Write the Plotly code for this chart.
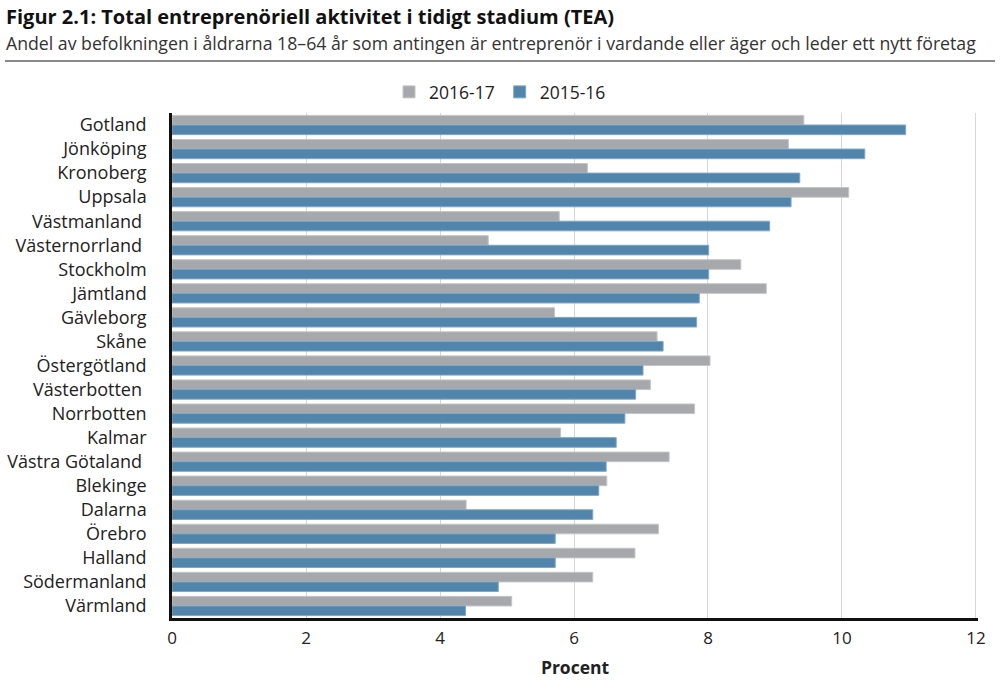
import plotly.graph_objects as go

# regions, top to bottom as in the report
regions = ["Gotland", "Jönköping", "Kronoberg", "Uppsala", "Västmanland ",
           "Västernorrland ", "Stockholm", "Jämtland", "Gävleborg", "Skåne",
           "Östergötland", "Västerbotten ", "Norrbotten", "Kalmar",
           "Västra Götaland ", "Blekinge", "Dalarna", "Örebro", "Halland",
           "Södermanland", "Värmland"]

tea_2016_17 = [9.43, 9.20, 6.20, 10.10, 5.78, 4.72, 8.49, 8.87, 5.71, 7.24,
               8.03, 7.14, 7.80, 5.80, 7.42, 6.49, 4.39, 7.26, 6.91, 6.28, 5.07]
tea_2015_16 = [10.95, 10.34, 9.37, 9.24, 8.92, 8.01, 8.01, 7.87, 7.83, 7.33,
               7.03, 6.92, 6.76, 6.63, 6.48, 6.37, 6.28, 5.72, 5.72, 4.87, 4.38]

x_ticks = [0, 2, 4, 6, 8, 10, 12]

grey = "#a7a8ab"
blue = "#5285ab"
font = "Open Sans"

L, R, T, B = 172, 22, 113, 68
pw = 1000 - L - R
ph = 686 - T - B


def px_x(x):
    return (x - L) / pw


def px_y(y):
    return 1 + (T - y) / ph


fig = go.Figure()
fig.add_trace(go.Bar(y=regions, x=tea_2016_17, name="2016-17", orientation="h",
                     marker=dict(color=grey, line=dict(color="#c4c5c7", width=1))))
fig.add_trace(go.Bar(y=regions, x=tea_2015_16, name="2015-16", orientation="h",
                     marker=dict(color=blue, line=dict(color="#7fa6c6", width=1))))

fig.update_layout(
    width=1000, height=686,
    margin=dict(l=L, r=R, t=T, b=B),
    paper_bgcolor="white", plot_bgcolor="white",
    font=dict(family=font, size=16, color="#222"),
    barmode="group", bargap=0.2, bargroupgap=0,
    showlegend=True,
    legend=dict(orientation="h", x=px_x(500), xanchor="center", y=px_y(92), yanchor="middle",
                font=dict(size=17.5), tracegroupgap=0),
)

fig.update_xaxes(range=[0, 12.03], tickvals=x_ticks, showgrid=True,
                 gridcolor="#d6d6d6", gridwidth=1, zeroline=False,
                 showline=True, linecolor="#111", linewidth=3, automargin=False,
                 ticklabelstandoff=3, tickfont=dict(size=17, color="#222"),
                 title=dict(text="<b>Procent</b>", font=dict(size=17.5), standoff=14))
fig.update_yaxes(autorange="reversed", showgrid=False, showline=True,
                 linecolor="#111", linewidth=2.5, ticks="", automargin=False,
                 ticklabelstandoff=19, tickfont=dict(size=18, color="#222"))

fig.add_annotation(text="<b>Figur 2.1: Total entreprenöriell aktivitet i tidigt stadium (TEA)</b>",
                   xref="paper", yref="paper", x=px_x(4), y=px_y(16),
                   xanchor="left", yanchor="middle", showarrow=False,
                   font=dict(size=20, color="#111"))
fig.add_annotation(text="Andel av befolkningen i åldrarna 18–64 år som antingen är entreprenör i vardande eller äger och leder ett nytt företag",
                   xref="paper", yref="paper", x=px_x(4), y=px_y(43),
                   xanchor="left", yanchor="middle", showarrow=False,
                   font=dict(size=17.7, color="#333"))
fig.add_shape(type="line", xref="paper", yref="paper", x0=px_x(5), x1=px_x(995),
              y0=px_y(61), y1=px_y(61), line=dict(color="#8a8a8a", width=2))

# browser default body margin would push the figure 8px right/down
fig.write_html("out.html", config={"displayModeBar": False},
               post_script="document.body.style.margin='0';")
